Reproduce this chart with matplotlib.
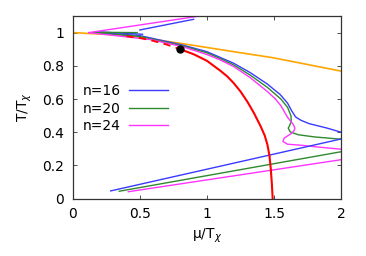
import matplotlib
matplotlib.use("Agg")
import matplotlib.pyplot as plt

# curvas principales (rama superior) para cada n
blue_x = [0.20, 0.50, 0.82, 1.00, 1.10, 1.20, 1.32, 1.45, 1.545, 1.60, 1.63, 1.66, 1.70, 1.76, 1.89, 2.00]
blue_y = [1.00, 0.982, 0.925, 0.885, 0.85, 0.815, 0.76, 0.69, 0.627, 0.575, 0.53, 0.492, 0.472, 0.452, 0.426, 0.40]
green_x = [0.15, 0.50, 0.82, 1.00, 1.10, 1.20, 1.32, 1.45, 1.55, 1.60, 1.625, 1.628, 1.615, 1.605, 1.62, 1.68, 1.80, 2.00]
green_y = [1.00, 0.977, 0.92, 0.878, 0.843, 0.805, 0.745, 0.67, 0.60, 0.55, 0.50, 0.465, 0.44, 0.425, 0.402, 0.385, 0.372, 0.358]
mag_x = [0.12, 0.58, 0.82, 1.00, 1.10, 1.20, 1.32, 1.45, 1.51, 1.55, 1.60, 1.64, 1.655, 1.645, 1.62, 1.575, 1.565, 1.60, 1.70, 1.84, 2.00]
mag_y = [1.00, 0.958, 0.915, 0.868, 0.835, 0.795, 0.73, 0.645, 0.60, 0.56, 0.49, 0.45, 0.425, 0.405, 0.388, 0.365, 0.345, 0.328, 0.322, 0.31, 0.298]

# ramas metastables cerca de (0.1, 1)
blue_top_x = [0.18, 0.52]
blue_top_y = [1.005, 0.99]
blue_up_x = [0.50, 0.90]
blue_up_y = [1.016, 1.080]
green_top_x = [0.17, 0.48]
green_top_y = [1.002, 1.00]
mag_up_x = [0.12, 0.98]
mag_up_y = [1.00, 1.104]

# rectas inferiores
blue_low_x = [0.283, 2.00]
blue_low_y = [0.047, 0.36]
green_low_x = [0.347, 2.00]
green_low_y = [0.045, 0.283]
mag_low_x = [0.414, 2.00]
mag_low_y = [0.042, 0.235]

# lineas de referencia
orange_x = [0.0, 0.40, 0.823, 1.20, 1.49, 2.00]
orange_y = [1.00, 0.983, 0.933, 0.885, 0.849, 0.768]
red_dash_x = [0.40, 0.50, 0.60, 0.70, 0.80]
red_dash_y = [0.978, 0.968, 0.950, 0.928, 0.90]
red_x = [0.80, 0.90, 1.00, 1.10, 1.15, 1.20, 1.25, 1.30, 1.35, 1.40, 1.43, 1.45, 1.465, 1.475, 1.483, 1.489]
red_y = [0.90, 0.87, 0.83, 0.77, 0.737, 0.695, 0.645, 0.585, 0.515, 0.435, 0.38, 0.325, 0.26, 0.18, 0.09, 0.0]
cep_x = [0.80]
cep_y = [0.90]

c_blue = "#3a3aff"
c_green = "#2f8a2f"
c_mag = "#ff33ff"

fig = plt.figure(figsize=(3.66, 2.56), dpi=100)
ax = fig.add_axes([0.1986, 0.2238, 0.7339, 0.7137])

ax.plot(orange_x, orange_y, color="#ffa500", lw=1.2)

ax.plot(blue_x, blue_y, color=c_blue, lw=1.0, label="n=16")
ax.plot(green_x, green_y, color=c_green, lw=1.0, label="n=20")
ax.plot(mag_x, mag_y, color=c_mag, lw=1.0, label="n=24")

ax.plot(blue_top_x, blue_top_y, color=c_blue, lw=1.0)
ax.plot(blue_up_x, blue_up_y, color=c_blue, lw=1.0)
ax.plot(green_top_x, green_top_y, color=c_green, lw=1.0)
ax.plot(mag_up_x, mag_up_y, color=c_mag, lw=1.0)

ax.plot(blue_low_x, blue_low_y, color=c_blue, lw=1.0)
ax.plot(green_low_x, green_low_y, color=c_green, lw=1.0)
ax.plot(mag_low_x, mag_low_y, color=c_mag, lw=1.0)

ax.plot(red_dash_x, red_dash_y, color="red", lw=1.3, ls=(0, (4, 3)))
ax.plot(red_x, red_y, color="red", lw=1.5)
ax.plot(cep_x, cep_y, "o", color="black", ms=5, zorder=5)

ax.set_xlim(0, 2)
ax.set_ylim(0, 1.1)
ax.set_xticks([0, 0.5, 1, 1.5, 2])
ax.set_xticklabels(["0", "0.5", "1", "1.5", "2"])
ax.set_yticks([0, 0.2, 0.4, 0.6, 0.8, 1])
ax.set_yticklabels(["0", "0.2", "0.4", "0.6", "0.8", "1"])
ax.tick_params(direction="in", length=3, width=0.6, top=True, right=True,
               labelsize=10, pad=6, color="#333333")
for s in ax.spines.values():
    s.set_color("#333333")
    s.set_linewidth(0.9)

ax.set_xlabel("μ/T$_\\chi$", fontsize=10, labelpad=4)
ax.set_ylabel("T/T$_\\chi$", fontsize=10, labelpad=6)

ax.legend(loc="upper left", bbox_to_anchor=(0.0, 0.68), frameon=False,
          markerfirst=False, fontsize=10, handlelength=2.8, handletextpad=0.6,
          labelspacing=0.25, borderaxespad=0.3)

plt.savefig("out.png", dpi=100)
